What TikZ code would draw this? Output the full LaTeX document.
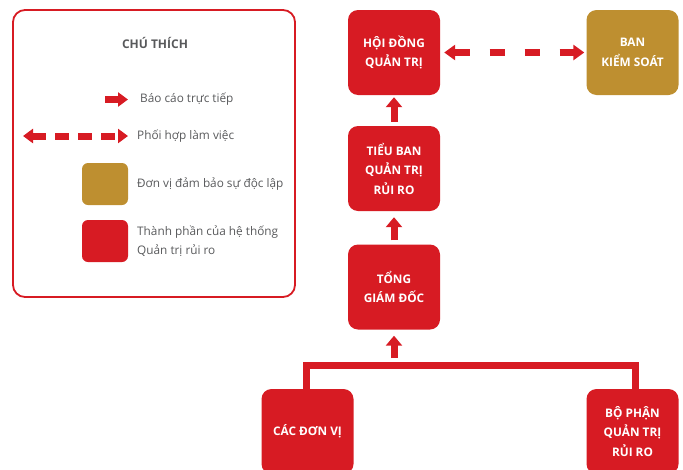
\documentclass[tikz,border=0pt]{standalone}
\usepackage{fontspec}
\setmainfont{Open Sans}
\usetikzlibrary{arrows.meta}
\definecolor{redm}{RGB}{215,27,35}
\definecolor{goldm}{RGB}{190,143,48}
\definecolor{txtg}{RGB}{88,89,91}
\tikzset{
  x=1pt,y=-1pt,
  box/.style={minimum width=92pt,minimum height=85pt,rounded corners=10pt,inner sep=0pt,
    text=white,align=center,font=\bfseries\fontsize{11.8}{19.5}\selectfont},
  redbox/.style={box,fill=redm},
  goldbox/.style={box,fill=goldm},
  uparrow/.style={draw=redm,line width=7pt,-{Triangle[width=16pt,length=10pt]}},
  dasharrow/.style={draw=redm,line width=7pt,{Triangle[width=15pt,length=11pt]}-{Triangle[width=15pt,length=11pt]},dash pattern=on 15pt off 20pt},
  barline/.style={draw=redm,line width=7pt,line join=miter},
  legtxt/.style={text=txtg,anchor=west,inner sep=0pt,align=left,font=\fontsize{11.8}{19}\selectfont},
  legsq/.style={minimum width=46pt,minimum height=42pt,rounded corners=6pt,inner sep=0pt},
}
\begin{document}
\begin{tikzpicture}
\useasboundingbox (0,0) rectangle (683,469);
% legend
\node[draw=redm,line width=1.8pt,rounded corners=12pt,minimum width=282pt,minimum height=287pt,inner sep=0pt] (legend) at (154,153.5) {};
\node[text=txtg,font=\bfseries\fontsize{12}{14}\selectfont] (title) at (155,43) {CHÚ THÍCH};
\coordinate (l1a) at (105,99.5);
\coordinate (l1b) at (128,99.5);
\draw[draw=redm,line width=7pt,-{Triangle[width=14pt,length=10pt]}] (l1a) -- (l1b);
\node[legtxt] (t1) at (140,99.5) {Báo cáo trực tiếp};
\coordinate (l2a) at (23,136);
\coordinate (l2b) at (128,136);
\draw[draw=redm,line width=7pt,{Triangle[width=14pt,length=10pt]}-{Triangle[width=14pt,length=10pt]},dash pattern=on 14pt off 9pt] (l2a) -- (l2b);
\node[legtxt] (t2) at (137,136) {Phối hợp làm việc};
\node[legsq,fill=goldm] (sq1) at (105,184) {};
\node[legtxt] (t3) at (137,184) {Đơn vị đảm bảo sự độc lập};
\node[legsq,fill=redm] (sq2) at (105,241) {};
\node[legtxt] (t4) at (137,241.5) {Thành phần của hệ thống\\Quản trị rủi ro};
% main nodes
\node[redbox] (hdqt) at (394,52.5) {HỘI ĐỒNG\\QUẢN TRỊ};
\node[goldbox] (bks) at (632.5,52.5) {BAN\\KIỂM SOÁT};
\node[redbox] (tb) at (394,168.5) {TIỂU BAN\\QUẢN TRỊ\\RỦI RO};
\node[redbox] (tgd) at (394,287) {TỔNG\\GIÁM ĐỐC};
\node[redbox] (cdv) at (307.5,431.5) {CÁC ĐƠN VỊ};
\node[redbox] (bp) at (632.5,431.5) {BỘ PHẬN\\QUẢN TRỊ\\RỦI RO};
% connectors
\draw[dasharrow,shorten <=4pt,shorten >=2pt] (hdqt.east) -- (bks.west);
\draw[uparrow,shorten <=4pt,shorten >=2pt] (tb.north) -- (hdqt.south);
\draw[uparrow,shorten <=4pt,shorten >=6pt] (tgd.north) -- (tb.south);
\draw[barline] ([xshift=-1.5pt]cdv.north) -- ++(0,-23.5) -| ([xshift=2.5pt]bp.north);
\coordinate (barmid) at (394,358);
\draw[uparrow,shorten >=6pt] (barmid) -- (tgd.south);
\end{tikzpicture}
\end{document}
